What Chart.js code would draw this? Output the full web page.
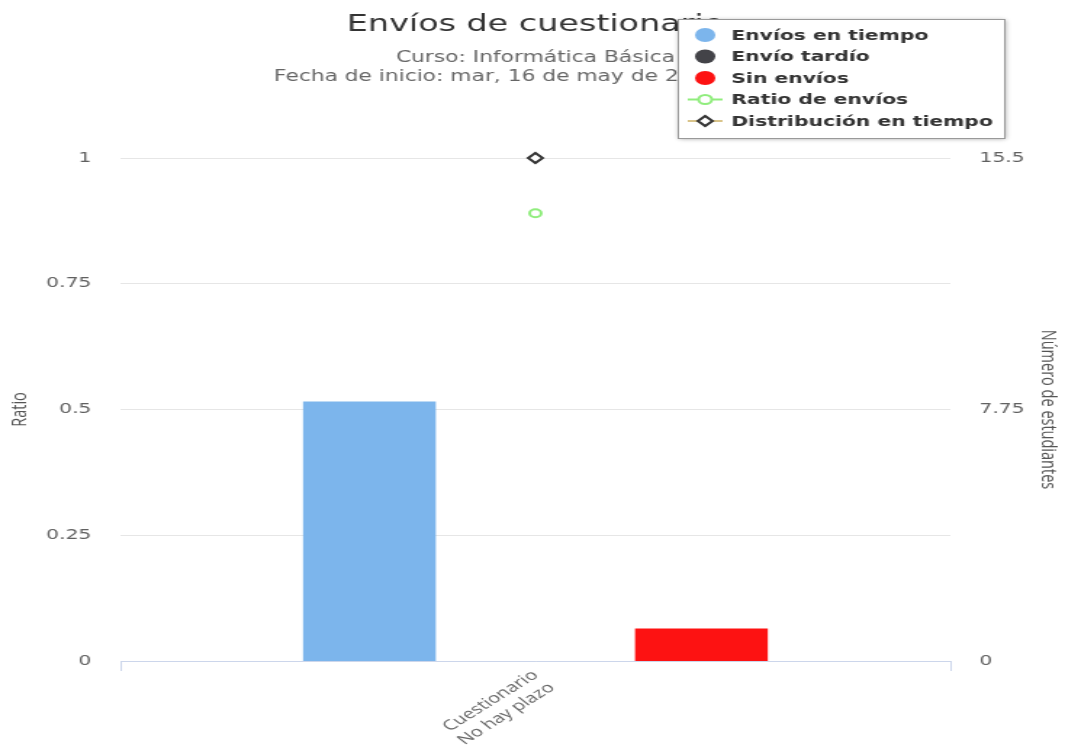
<!DOCTYPE html>
<html>
<head>
<meta charset="utf-8">
<title>Envíos de cuestionario</title>
<script src="https://cdn.jsdelivr.net/npm/chart.js@4"></script>
<style>
  html, body { margin: 0; padding: 0; background: #fff; overflow: hidden; }
  #chart { display: block; }
</style>
</head>
<body>
<!-- the reference is stretched sideways, so the canvas is drawn narrow and widened by css -->
<canvas id="chart" width="734" height="753" style="width:1065px;height:753px"></canvas>
<script>
const categories = [["Cuestionario", "No hay plazo"]];
const onTime = [8];
const late = [0];
const noSubmission = [1];
const submissionRatio = [0.89];
const onTimeDistribution = [1];
const ratioTicks = [0, 0.25, 0.5, 0.75, 1];
const studentTicks = [0, 7.75, 15.5];

const chartTitle = "Envíos de cuestionario";
const subtitleLines = [
  "Curso: Informática Básica",
  "Fecha de inicio: mar, 16 de may de 2017, 10:00"
];

const FONT = '"DejaVu Sans", sans-serif';

// title, subtitle and the floating legend box
const titleAndLegend = {
  id: "titleAndLegend",
  afterDraw(chart) {
    const ctx = chart.ctx;
    const mid = (chart.chartArea.left + chart.chartArea.right) / 2;
    ctx.save();
    ctx.textAlign = "center";
    ctx.textBaseline = "middle";
    ctx.fillStyle = "#333";
    ctx.font = "23px " + FONT;
    ctx.fillText(chartTitle, mid, 25);
    ctx.fillStyle = "#666";
    ctx.font = "15px " + FONT;
    subtitleLines.forEach((t, i) => ctx.fillText(t, mid, 58 + i * 19));

    const box = { x: 467, y: 19, w: 225, h: 119 };
    ctx.shadowColor = "rgba(0,0,0,0.35)";
    ctx.shadowBlur = 4;
    ctx.shadowOffsetX = 1;
    ctx.shadowOffsetY = 1;
    ctx.fillStyle = "#fff";
    ctx.fillRect(box.x, box.y, box.w, box.h);
    ctx.shadowColor = "transparent";
    ctx.strokeStyle = "#999";
    ctx.lineWidth = 1;
    ctx.strokeRect(box.x + 0.5, box.y + 0.5, box.w, box.h);

    ctx.textAlign = "left";
    chart.data.datasets.forEach((ds, i) => {
      const y = 35 + i * 21.5;
      const mx = 486;
      if (ds.type === "line") {
        ctx.strokeStyle = ds.legendLine;
        ctx.lineWidth = 2;
        ctx.beginPath();
        ctx.moveTo(474, y);
        ctx.lineTo(498, y);
        ctx.stroke();
        ctx.fillStyle = "#fff";
        ctx.strokeStyle = ds.borderColor;
        ctx.beginPath();
        if (ds.pointStyle === "rectRot") {
          const r = 5;
          ctx.moveTo(mx, y - r);
          ctx.lineTo(mx + r, y);
          ctx.lineTo(mx, y + r);
          ctx.lineTo(mx - r, y);
          ctx.closePath();
        } else {
          ctx.arc(mx, y, 4.5, 0, Math.PI * 2);
        }
        ctx.fill();
        ctx.stroke();
      } else {
        ctx.fillStyle = ds.backgroundColor;
        ctx.beginPath();
        ctx.arc(mx, y, 7, 0, Math.PI * 2);
        ctx.fill();
      }
      ctx.fillStyle = "#333";
      ctx.font = "bold 14px " + FONT;
      ctx.fillText(ds.label, 504, y + 1);
    });
    ctx.restore();
  }
};

new Chart(document.getElementById("chart"), {
  type: "bar",
  data: {
    labels: categories,
    datasets: [
      { label: "Envíos en tiempo", data: onTime, backgroundColor: "#7cb5ec", yAxisID: "y1", order: 1 },
      { label: "Envío tardío", data: late, backgroundColor: "#434348", yAxisID: "y1", order: 1 },
      { label: "Sin envíos", data: noSubmission, backgroundColor: "#fd1212", yAxisID: "y1", order: 1 },
      {
        type: "line", label: "Ratio de envíos", data: submissionRatio, yAxisID: "y",
        showLine: false, pointStyle: "circle", pointRadius: 4, pointBorderWidth: 2, clip: false,
        borderColor: "#90ed7d", pointBackgroundColor: "#fff", legendLine: "#90ed7d", order: 0
      },
      {
        type: "line", label: "Distribución en tiempo", data: onTimeDistribution, yAxisID: "y",
        showLine: false, pointStyle: "rectRot", pointRadius: 5, pointBorderWidth: 2, clip: false,
        borderColor: "#333", pointBackgroundColor: "#fff", legendLine: "#d9c48a", order: 0
      }
    ]
  },
  options: {
    responsive: false,
    animation: false,
    datasets: { bar: { categoryPercentage: 0.6, barPercentage: 0.8 } },
    layout: { padding: { top: 158, left: 0, right: 0, bottom: 0 } },
    plugins: { legend: { display: false }, tooltip: { enabled: false } },
    scales: {
      x: {
        grid: { drawOnChartArea: false, tickLength: 10, color: "#ccd6eb" },
        border: { display: true, color: "#ccd6eb" },
        ticks: {
          color: "#666", font: { family: "Open Sans", size: 14 },
          minRotation: 42, maxRotation: 42, padding: -4
        },
        afterFit: (s) => { s.height = 92; }
      },
      y: {
        position: "left", min: 0, max: 1,
        grid: { color: "#e6e6e6", drawTicks: false },
        border: { display: false },
        ticks: { color: "#606060", font: { family: "DejaVu Sans", size: 14 }, padding: 20, callback: (v) => String(v) },
        afterBuildTicks: (s) => { s.ticks = ratioTicks.map((v) => ({ value: v })); },
        title: { display: true, text: "Ratio", color: "#555", font: { family: "Open Sans", size: 14.5 }, padding: { top: 5 } },
        afterFit: (s) => { s.width = 83; }
      },
      y1: {
        position: "right", min: 0, max: 15.5,
        grid: { display: false, drawTicks: false },
        border: { display: false },
        ticks: { color: "#606060", font: { family: "DejaVu Sans", size: 14 }, padding: 20, callback: (v) => String(v) },
        afterBuildTicks: (s) => { s.ticks = studentTicks.map((v) => ({ value: v })); },
        title: { display: true, text: "Número de estudiantes", color: "#555", font: { family: "Open Sans", size: 14.5 }, padding: { top: 3 } },
        afterFit: (s) => { s.width = 79; }
      }
    }
  },
  plugins: [titleAndLegend]
});
</script>
</body>
</html>
